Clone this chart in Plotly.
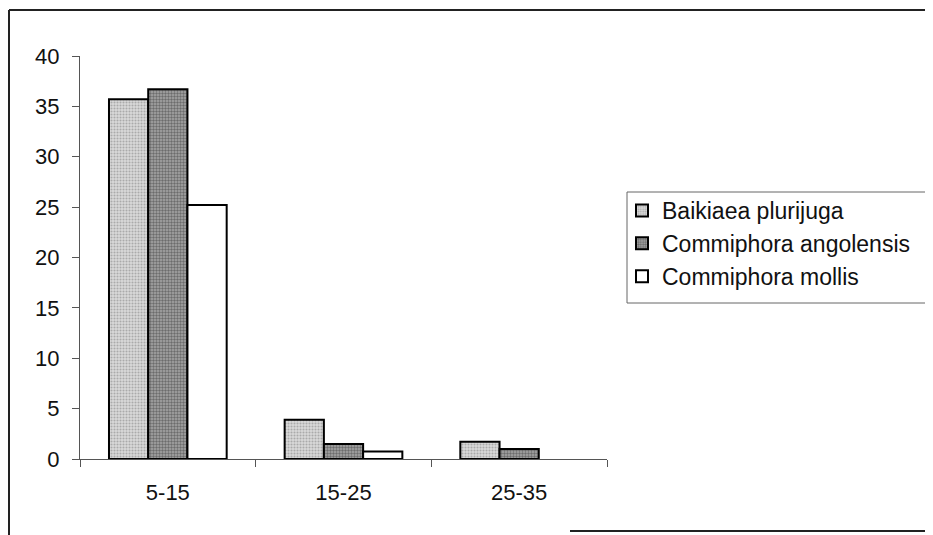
import plotly.graph_objects as go

categories = ["5-15", "15-25", "25-35"]
baikiaea = [35.7, 3.9, 1.7]
angolensis = [36.7, 1.5, 1.0]
mollis = [25.2, 0.75, None]
series_names = ["Baikiaea plurijuga", "Commiphora angolensis", "Commiphora mollis"]
y_ticks = [0, 5, 10, 15, 20, 25, 30, 35, 40]

FONT = "Liberation Sans, Arial, sans-serif"

# figure pixel geometry (page body has an 8px margin)
W, H = 925, 527
L, R, T, B = 72, 599, 48, 451

def px(x):
    return (x - L) / (R - L)

def py(y):
    return (B - y) / (B - T)

fig = go.Figure()
styles = [
    dict(color="#c8c8c8", pattern=dict(shape=".", fgcolor="#7a7a7a", bgcolor="#dadada", size=3, solidity=0.4)),
    dict(color="#909090", pattern=dict(shape=".", fgcolor="#303030", bgcolor="#a8a8a8", size=3, solidity=0.5)),
    dict(color="#ffffff"),
]
for name, vals, st in zip(series_names, [baikiaea, angolensis, mollis], styles):
    fig.add_trace(go.Bar(
        x=categories, y=vals, name=name,
        marker=dict(line=dict(color="#000000", width=2), **st),
    ))

fig.update_layout(
    width=W, height=H,
    margin=dict(l=L, r=W - R, t=T, b=H - B),
    paper_bgcolor="white", plot_bgcolor="white",
    barmode="group", bargap=0.33, bargroupgap=0,
    font=dict(family=FONT, size=22, color="#111"),
    showlegend=True,
    legend=dict(
        x=px(614), y=py(181), xanchor="left", yanchor="top",
        bgcolor="rgba(0,0,0,0)", borderwidth=0,
        font=dict(family=FONT, size=23, color="#111"),
        tracegroupgap=0, itemwidth=30,
    ),
    xaxis=dict(
        showline=True, linecolor="#555", linewidth=1,
        ticks="outside", tickson="boundaries", ticklen=7, tickcolor="#555",
        showgrid=False, ticklabelstandoff=14,
        tickfont=dict(size=22),
    ),
    yaxis=dict(
        range=[0, 40], tickvals=y_ticks,
        showline=True, linecolor="#555", linewidth=1,
        ticks="outside", ticklen=7, tickcolor="#555",
        showgrid=False, zeroline=False, ticklabelstandoff=8,
        tickfont=dict(size=22),
    ),
)

# legend frame (runs off the right edge, as in the scan)
fig.add_shape(type="rect", xref="paper", yref="paper",
              x0=px(619), x1=px(960), y0=py(295), y1=py(184),
              line=dict(color="#666", width=1), fillcolor="rgba(0,0,0,0)", layer="below")

# scanned page frame lines
frame = [
    (1, 2, W, 2),      # top
    (1, 2, 1, H),      # left
    (562, 523, W, 523) # bottom right
]
for x0, y0, x1, y1 in frame:
    fig.add_shape(type="line", xref="paper", yref="paper",
                  x0=px(x0), y0=py(y0), x1=px(x1), y1=py(y1),
                  line=dict(color="#222", width=2), layer="below")

fig.write_html("out.html")
